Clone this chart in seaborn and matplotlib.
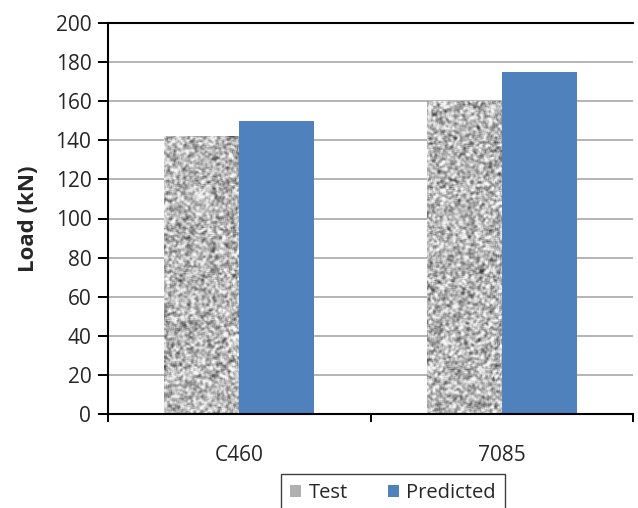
import numpy as np
import pandas as pd
import matplotlib
matplotlib.use("Agg")
import matplotlib.pyplot as plt
import seaborn as sns
from numpy.lib.stride_tricks import sliding_window_view
from matplotlib.patches import Patch

categories = ["C460", "7085"]
test_values = [142, 160]
predicted_values = [150, 175]
series_names = ["Test", "Predicted"]
y_ticks = [0, 20, 40, 60, 80, 100, 120, 140, 160, 180, 200]

df = pd.DataFrame({
    "Specimen": categories * 2,
    "Load": test_values + predicted_values,
    "Series": [series_names[0]] * len(categories) + [series_names[1]] * len(categories),
})

sns.set_theme(style="white")
plt.rcParams["font.family"] = ["Open Sans", "DejaVu Sans"]

fig = plt.figure(figsize=(6.38, 5.08), dpi=100)
ax = fig.add_axes([108/638, 1 - 414/508, (633 - 108)/638, (414 - 23)/508])

palette = {"Test": "#a8a8a8", "Predicted": "#4f81bd"}
sns.barplot(data=df, x="Specimen", y="Load", hue="Series", order=categories,
            hue_order=series_names, palette=palette, width=0.57, gap=0,
            saturation=1, ax=ax, legend=False, errorbar=None)

# Texture for "Test" bars (style only)
rng = np.random.default_rng(7)
noise = rng.random((400, 520))
pad = np.pad(noise, 1, mode="edge")
smooth = sliding_window_view(pad, (3, 3)).mean(axis=(2, 3))
smooth = (smooth - smooth.mean()) / smooth.std()
tex = np.clip(0.72 + 0.14 * smooth, 0.22, 0.97)
n_cat = len(categories)
for p in ax.patches[:n_cat]:
    p.set_edgecolor("none")
    im = ax.imshow(tex, cmap="gray", vmin=0, vmax=1, extent=(0, 1, 0, 1),
                   transform=ax.transAxes, aspect="auto", interpolation="bilinear",
                   zorder=p.get_zorder() + 0.1)
    im.set_clip_path(p)
for p in ax.patches[n_cat:]:
    p.set_edgecolor("none")

ax.set_ylim(0, 200)
ax.set_xlim(-0.5, 1.5)
ax.set_yticks(y_ticks)
ax.set_yticklabels([str(v) for v in y_ticks])
ax.yaxis.grid(True, color="#b4b4b4", linewidth=1.4)
ax.set_axisbelow(True)

ax.set_xticks([-0.5, 0.5, 1.5], minor=False)
ax.set_xticklabels(["", "", ""])
ax.set_xticks([0, 1], minor=True)
ax.set_xticklabels(categories, minor=True)
ax.tick_params(axis="x", which="major", direction="out", length=6, width=1.4,
               color="black", bottom=True)
ax.tick_params(axis="x", which="minor", length=0, pad=22, labelsize=15)
ax.tick_params(axis="y", direction="out", length=7, width=1.4, color="black",
               left=True, labelsize=15, pad=5)

for side in ["left", "bottom", "top"]:
    ax.spines[side].set_visible(True)
    ax.spines[side].set_color("black")
    ax.spines[side].set_linewidth(1.5)
ax.spines["right"].set_visible(False)

ax.set_xlabel("")
ax.set_ylabel("Load (kN)", fontsize=16, fontweight="bold", labelpad=12)

handles = [Patch(facecolor="#b0b0b0", edgecolor="none"),
           Patch(facecolor="#4f81bd", edgecolor="none")]
leg = fig.legend(handles, series_names, loc="upper center",
                 bbox_to_anchor=(393/638, 1 - 474/508), ncol=2, fontsize=14.5,
                 frameon=True, fancybox=False, framealpha=1, edgecolor="#404040",
                 handlelength=0.55, handleheight=0.55, handletextpad=0.35,
                 columnspacing=2.0, borderpad=0.45, borderaxespad=0)
leg.get_frame().set_linewidth(1.0)

fig.savefig("out.png", dpi=100)
